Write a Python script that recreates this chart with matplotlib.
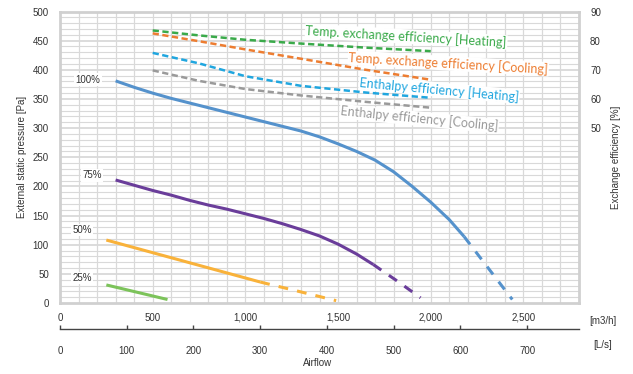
import matplotlib
matplotlib.use("Agg")
import matplotlib.pyplot as plt
import numpy as np

# ---------------- data ----------------
# fan curves: airflow [m3/h] vs external static pressure [Pa]
p100_x = [300, 400, 500, 600, 700, 800, 900, 1000, 1100, 1200, 1300, 1400, 1500,
          1600, 1700, 1800, 1900, 2000, 2100, 2180]
p100_y = [381, 370, 360, 351, 343, 335, 327, 319, 311, 303, 295, 285, 273,
          260, 245, 225, 200, 173, 143, 114]
p100_xd = [2180, 2310, 2440]
p100_yd = [114, 60, 6]

p75_x = [300, 400, 500, 600, 700, 800, 900, 1000, 1100, 1200, 1300, 1400, 1500, 1600, 1690]
p75_y = [211, 202, 193, 185, 176, 168, 161, 153, 145, 136, 126, 115, 101, 84, 66]
p75_xd = [1690, 1818, 1945]
p75_yd = [66, 38, 9]

p50_x = [250, 1080]
p50_y = [108, 36]
p50_xd = [1080, 1300, 1490]
p50_yd = [36, 19, 4]

p25_x = [250, 580]
p25_y = [31, 6]

curve_labels = ["100%", "75%", "50%", "25%"]

# exchange efficiency [%]
eff_x = [500, 750, 1000, 1300, 1650, 2000]
eff_temp_heat = [83.5, 81.8, 80.3, 79.0, 77.6, 76.4]
eff_temp_cool = [82.5, 79.8, 77.0, 73.8, 70.0, 66.6]
eff_enth_heat = [75.8, 72.2, 67.8, 64.5, 62.2, 60.4]
eff_enth_cool = [69.8, 66.2, 63.4, 61.2, 59.0, 57.0]
eff_names = ["Temp. exchange efficiency [Heating]",
             "Temp. exchange efficiency [Cooling]",
             "Enthalpy efficiency [Heating]",
             "Enthalpy efficiency [Cooling]"]

m3h_ticks = [0, 500, 1000, 1500, 2000, 2500]
m3h_labels = ["0", "500", "1,000", "1,500", "2,000", "2,500"]
ls_ticks = [0, 100, 200, 300, 400, 500, 600, 700]
pa_ticks = [0, 50, 100, 150, 200, 250, 300, 350, 400, 450, 500]
pct_ticks = [50, 60, 70, 80, 90]

# ---------------- figure ----------------
W, H = 633, 374
fig = plt.figure(figsize=(W / 100, H / 100), dpi=100)
plt.rcParams['font.family'] = ['Liberation Sans', 'DejaVu Sans']

L, R, T, B = 60, 579, 11.5, 303
ax = fig.add_axes([L / W, 1 - B / H, (R - L) / W, (B - T) / H])
XMAX = 2800
ax.set_xlim(0, XMAX)
ax.set_ylim(0, 500)

# grid
grid_c = '#d9d9d9'
for gx in range(100, XMAX, 100):
    ax.axvline(gx, color=grid_c, lw=0.9, zorder=0)
for gy in range(10, 500, 10):
    ax.axhline(gy, color=grid_c, lw=1.3 if gy % 50 == 0 else 0.8, zorder=0)
for s in ax.spines.values():
    s.set_color('#d0d0d0')
    s.set_linewidth(2.0)

ax.set_xticks([])
ax.set_yticks(pa_ticks)
ax.tick_params(axis='y', length=0, pad=8, labelsize=7, labelcolor='#333333')
ax.set_ylabel("External static pressure [Pa]", fontsize=7, color='#333333', labelpad=4.5)

# fan curves
c100, c75, c50, c25 = '#5592cc', '#6a3d9a', '#f9b23a', '#7cc35a'
dash_perf = (0, (3.2, 3.0))
ax.plot(p100_x, p100_y, color=c100, lw=2.2, solid_capstyle='butt')
ax.plot(p100_xd, p100_yd, color=c100, lw=2.2, ls=dash_perf)
ax.plot(p75_x, p75_y, color=c75, lw=2.2, solid_capstyle='butt')
ax.plot(p75_xd, p75_yd, color=c75, lw=2.2, ls=dash_perf)
ax.plot(p50_x, p50_y, color=c50, lw=2.2, solid_capstyle='butt')
ax.plot(p50_xd, p50_yd, color=c50, lw=2.2, ls=dash_perf)
ax.plot(p25_x, p25_y, color=c25, lw=2.2, solid_capstyle='butt')

lab_pos = [(151, 383), (172, 219), (119, 125), (119, 43)]
for t, (lx, ly) in zip(curve_labels, lab_pos):
    ax.text(lx, ly, t, fontsize=7, color='#333333', ha='center', va='center',
            bbox=dict(facecolor='white', edgecolor='none', pad=1.0), zorder=5)

# efficiency (right axis)
axr = ax.twinx()
axr.set_ylim(-10, 90)
axr.set_yticks(pct_ticks)
axr.tick_params(axis='y', length=0, pad=8, labelsize=7, labelcolor='#333333')
for s in axr.spines.values():
    s.set_visible(False)
axr.set_ylabel("Exchange efficiency [%]", fontsize=7, color='#333333', labelpad=7)

eff_cols = ['#3aaa4a', '#ed7d31', '#20a6df', '#9a9a9a']
eff_series = [eff_temp_heat, eff_temp_cool, eff_enth_heat, eff_enth_cool]
for ys, c in zip(eff_series, eff_cols):
    axr.plot(eff_x, ys, color=c, lw=1.8, ls=(0, (2.5, 1.4)))

eff_lab_pos = [(1868, 457, -3.4), (2095, 411, -3.4), (2046, 366, -5.2), (1938, 316, -5.6)]
for name, c, (lx, ly, rot) in zip(eff_names, eff_cols, eff_lab_pos):
    ax.text(lx, ly, name, fontsize=9, color=c, ha='center', va='center', rotation=rot,
            family=['Lato', 'DejaVu Sans'], rotation_mode='anchor',
            bbox=dict(facecolor='white', edgecolor='none', pad=0.5), zorder=6)

# bottom airflow axis
LINE_Y = 329
axb = fig.add_axes([L / W, 1 - LINE_Y / H, (R - L) / W, 0.0001])
axb.set_xlim(0, XMAX / 3.6)
axb.patch.set_visible(False)
for k in ['top', 'left', 'right']:
    axb.spines[k].set_visible(False)
axb.spines['bottom'].set_color('#444444')
axb.spines['bottom'].set_linewidth(1.0)
axb.set_yticks([])
axb.set_xticks(ls_ticks)
axb.set_xticklabels([str(v) for v in ls_ticks])
axb.tick_params(axis='x', direction='in', length=3, width=1, color='#444444',
                pad=12, labelsize=7, labelcolor='#333333')

axt = axb.twiny()
axt.set_xlim(0, XMAX)
axt.patch.set_visible(False)
for s in axt.spines.values():
    s.set_visible(False)
axt.set_xticks(m3h_ticks)
axt.set_xticklabels(m3h_labels)
axt.tick_params(axis='x', length=0, pad=4.5, labelsize=7, labelcolor='#333333')

fig.text(603 / W, 1 - 321 / H, "[m3/h]", fontsize=7, color='#333333', ha='center', va='center')
fig.text(603 / W, 1 - 345 / H, "[L/s]", fontsize=7, color='#333333', ha='center', va='center')
fig.text(318 / W, 1 - 363 / H, "Airflow", fontsize=7, color='#333333', ha='center', va='center')

fig.savefig("out.png", dpi=100)
